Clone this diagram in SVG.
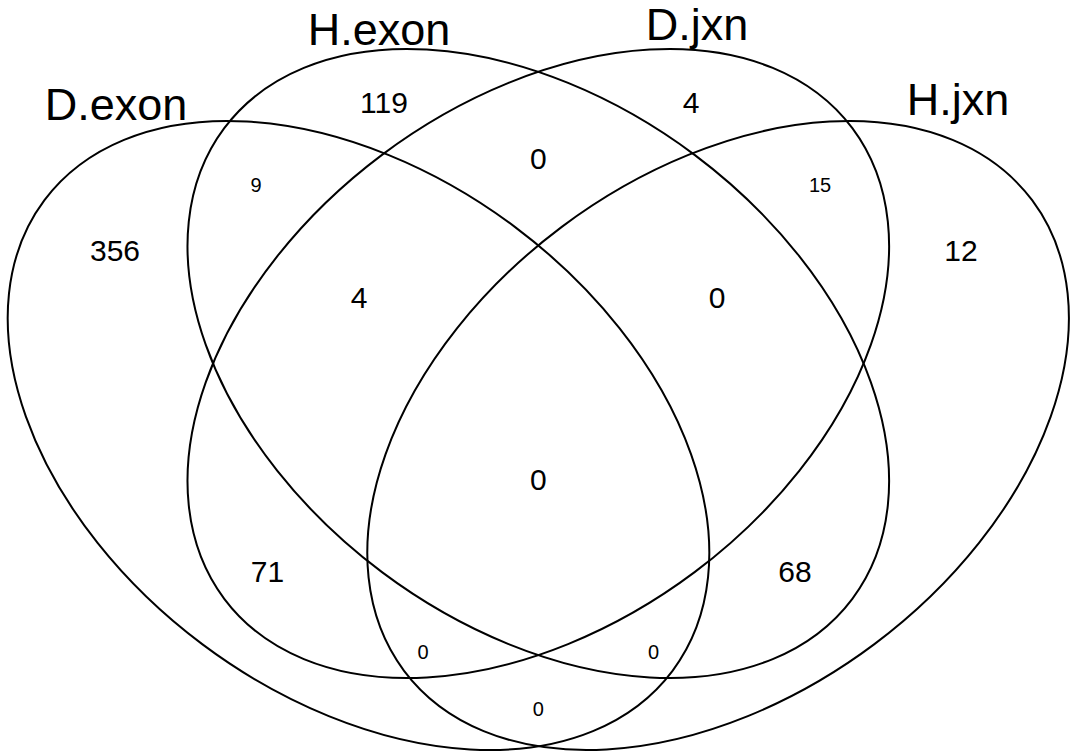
<svg xmlns="http://www.w3.org/2000/svg" width="1077" height="753" viewBox="0 0 1077 753">
<style>
.set{fill:none;stroke:#000;stroke-width:2}
text{font-family:"Liberation Sans",Arial,sans-serif;fill:#000;text-anchor:middle}
.title{font-size:45px}
.num{font-size:30px}
.small{font-size:20px}
</style>
<rect width="1077" height="753" fill="#fff"/>
<g id="connectors"></g>
<g id="D.exon">
<ellipse class="set" cx="0" cy="0" rx="392.4" ry="260.7" transform="translate(358.5 435.5) rotate(36.84)"/>
<text class="title" x="116" y="120">D.exon</text>
</g>
<g id="H.exon">
<ellipse class="set" cx="0" cy="0" rx="392.4" ry="260.7" transform="translate(538.3 363.5) rotate(36.84)"/>
<text class="title" x="379" y="45">H.exon</text>
</g>
<g id="D.jxn">
<ellipse class="set" cx="0" cy="0" rx="392.4" ry="260.7" transform="translate(538.3 363.5) rotate(-36.84)"/>
<text class="title" x="697" y="40">D.jxn</text>
</g>
<g id="H.jxn">
<ellipse class="set" cx="0" cy="0" rx="392.4" ry="260.7" transform="translate(718.1 435.5) rotate(-36.84)"/>
<text class="title" x="958" y="115">H.jxn</text>
</g>
<g id="counts">
<text class="num" x="384" y="113">119</text>
<text class="num" x="691" y="113">4</text>
<text class="num" x="538.3" y="169">0</text>
<text class="small" x="256" y="192">9</text>
<text class="small" x="820" y="192">15</text>
<text class="num" x="115" y="261">356</text>
<text class="num" x="961" y="261">12</text>
<text class="num" x="359" y="308">4</text>
<text class="num" x="717" y="308">0</text>
<text class="num" x="538.3" y="490">0</text>
<text class="num" x="267.5" y="582">71</text>
<text class="num" x="795" y="582">68</text>
<text class="small" x="423" y="659">0</text>
<text class="small" x="653.5" y="659">0</text>
<text class="small" x="538.3" y="716">0</text>
</g>
</svg>
